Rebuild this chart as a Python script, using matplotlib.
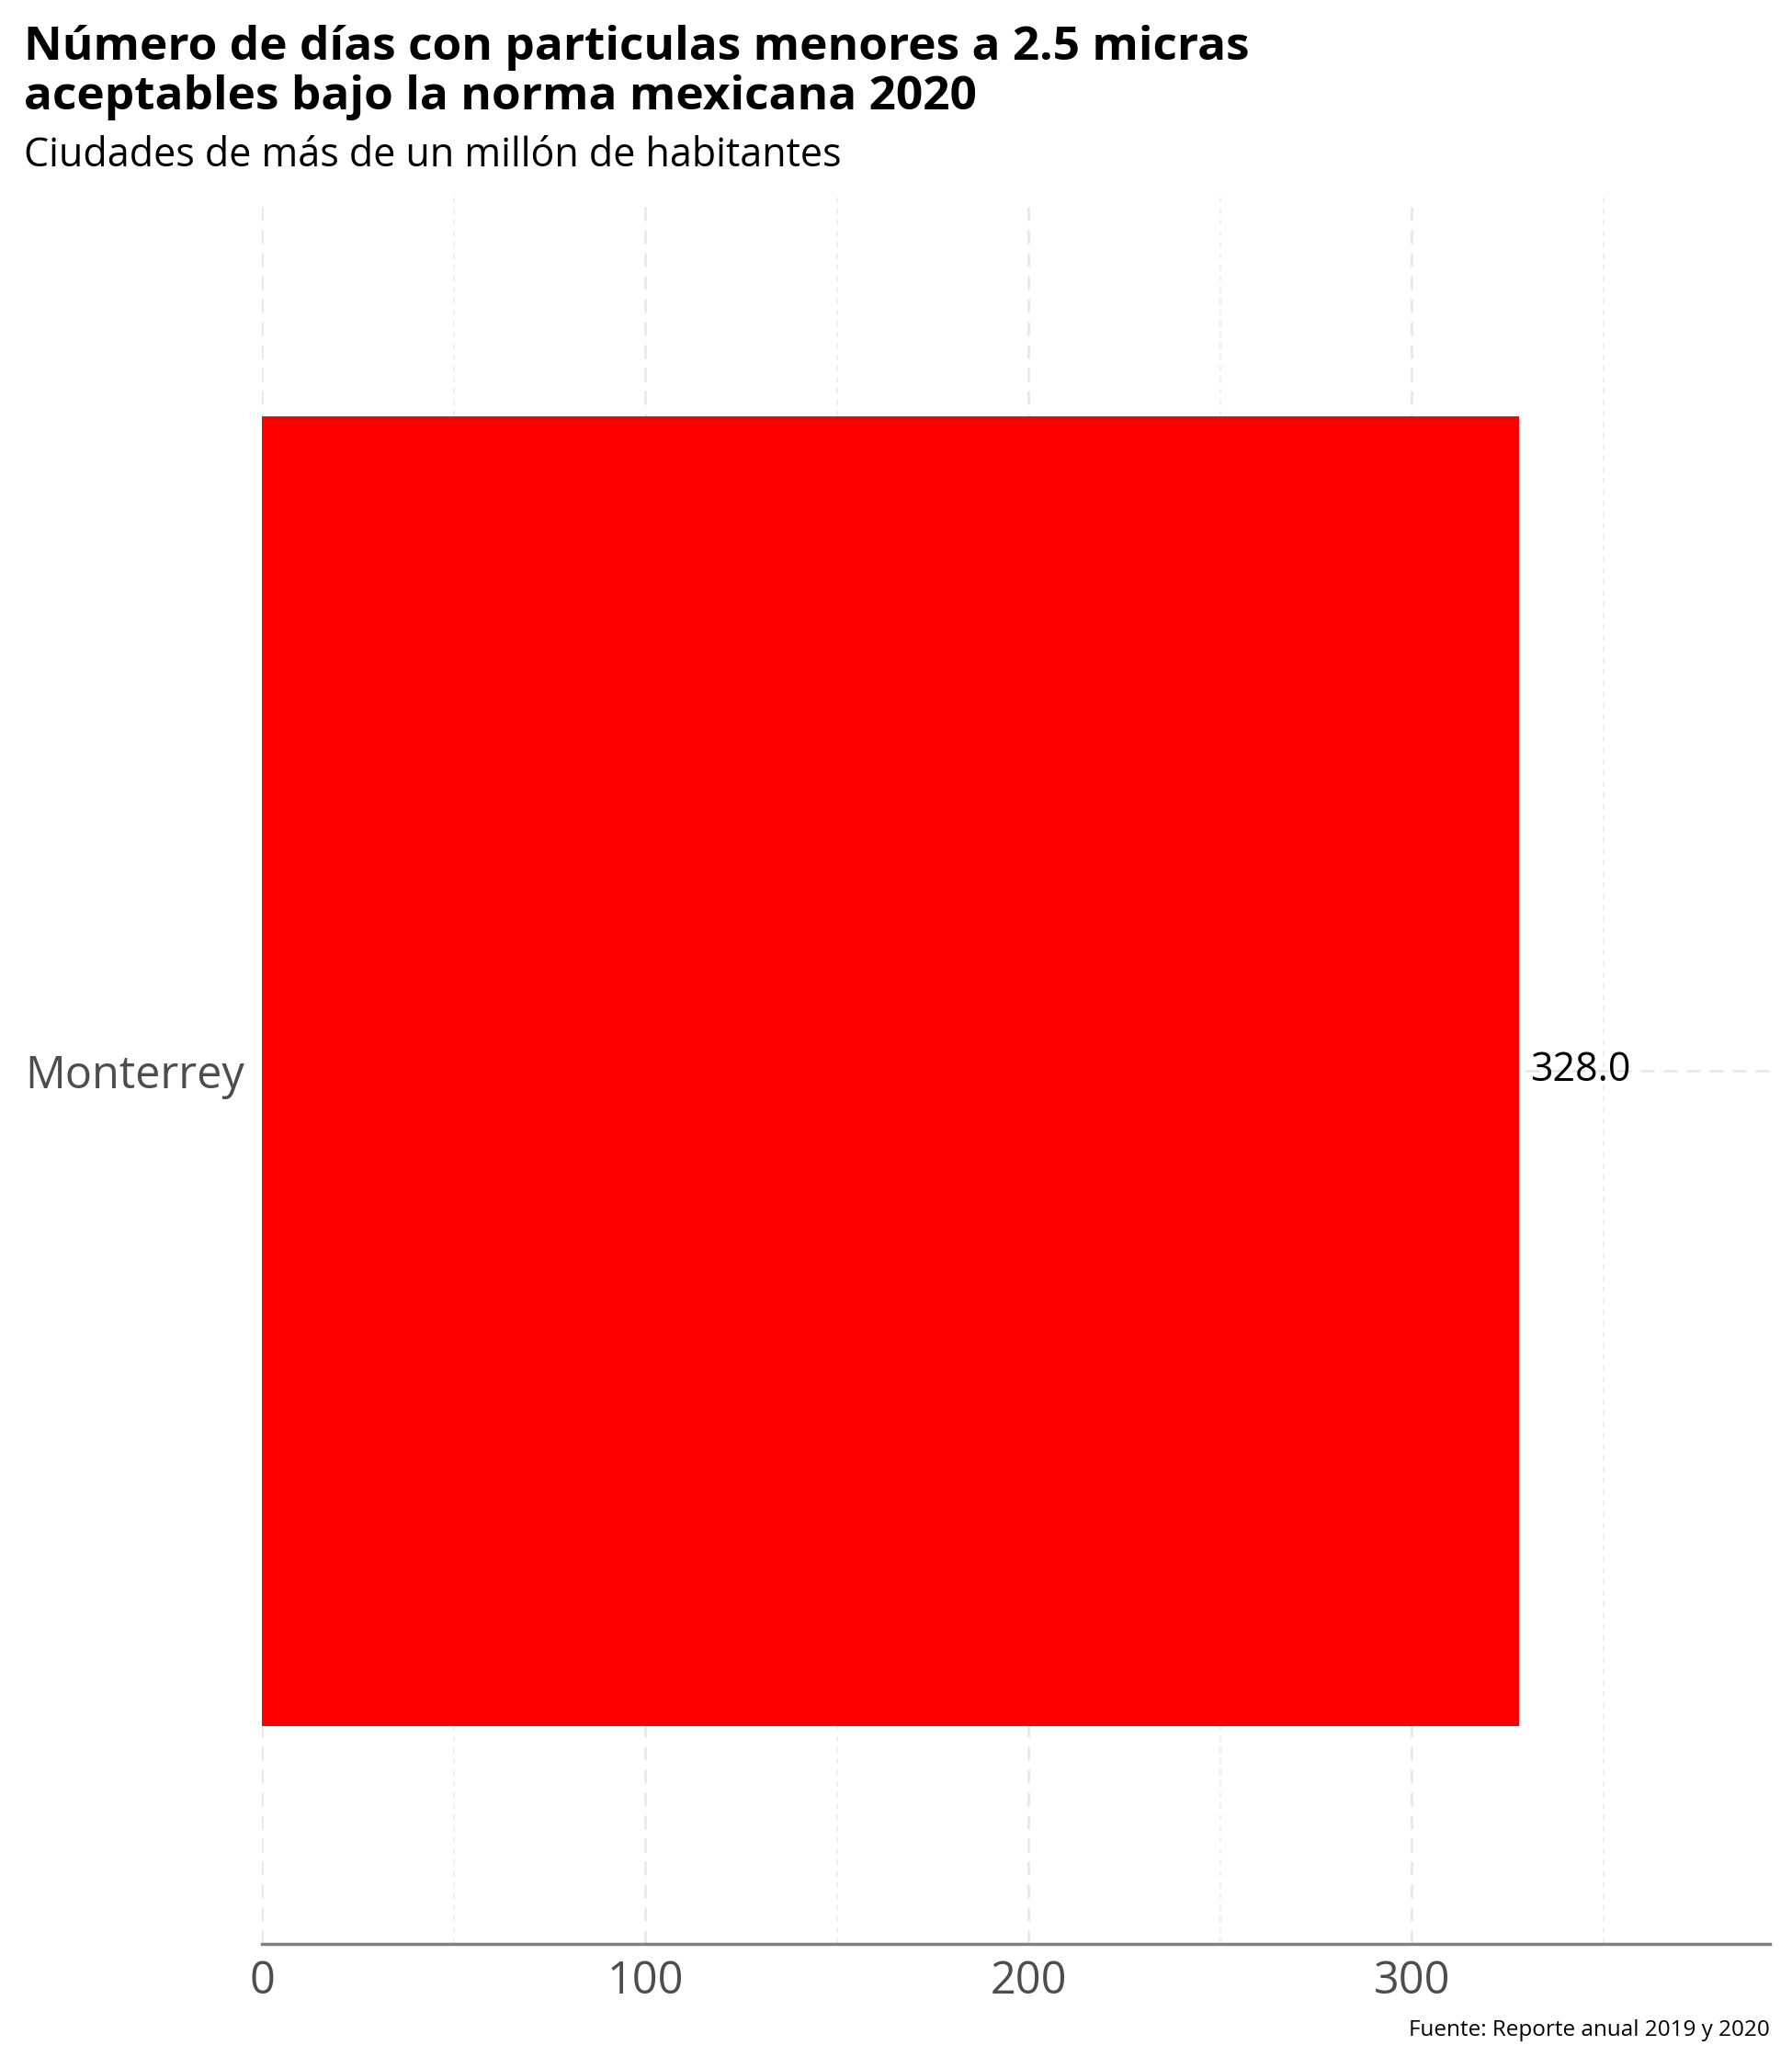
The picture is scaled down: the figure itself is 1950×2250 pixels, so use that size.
import matplotlib
matplotlib.use("Agg")
import matplotlib.pyplot as plt

# Data
ciudades = ["Monterrey"]
dias = [328.0]
etiquetas = ["328.0"]
xticks = [0, 100, 200, 300]
xticks_minor = [50, 150, 250, 350]

plt.rcParams["font.family"] = ["Open Sans", "DejaVu Sans"]

fig = plt.figure(figsize=(19.5, 22.5), dpi=100)
ax = fig.add_axes([0.1464, 0.06, 0.8413, 0.8444])

ax.barh(ciudades, dias, height=0.9, color="#ff0000", zorder=2)
for c, v, t in zip(ciudades, dias, etiquetas):
    ax.text(v + 3.0, c, t, va="center", ha="left", fontsize=31, color="black", zorder=3)

ax.set_xlim(0, 393.5)
ax.set_ylim(-0.6, 0.6)
ax.set_xticks(xticks)
ax.set_xticks(xticks_minor, minor=True)

# Grid
ax.grid(axis="x", which="major", color="#e6e6e6", linestyle=(0, (6, 4)), linewidth=1.8, zorder=0)
ax.grid(axis="x", which="minor", color="#ebebeb", linestyle=(0, (4, 4)), linewidth=1.1, zorder=0)
ax.grid(axis="y", which="major", color="#e6e6e6", linestyle=(0, (6, 4)), linewidth=1.8, zorder=0)

for s in ["top", "right", "left"]:
    ax.spines[s].set_visible(False)
ax.spines["bottom"].set_color("#808080")
ax.spines["bottom"].set_linewidth(2.5)

ax.tick_params(axis="x", which="both", length=0, labelsize=35, labelcolor="#4d4d4d", pad=12)
ax.tick_params(axis="y", which="both", length=0, labelsize=35, labelcolor="#4d4d4d", pad=14)

# Titles
fig.text(0.0133, 0.9711, "Número de días con particulas menores a 2.5 micras",
         fontsize=37, fontweight="bold", ha="left", va="baseline")
fig.text(0.0133, 0.9471, "aceptables bajo la norma mexicana 2020",
         fontsize=37, fontweight="bold", ha="left", va="baseline")
fig.text(0.0133, 0.9195, "Ciudades de más de un millón de habitantes",
         fontsize=31, ha="left", va="baseline", color="black")
fig.text(0.9877, 0.0155, "Fuente: Reporte anual 2019 y 2020",
         fontsize=17.5, ha="right", va="baseline", color="black")

fig.savefig("out.png", dpi=100, facecolor="white")
